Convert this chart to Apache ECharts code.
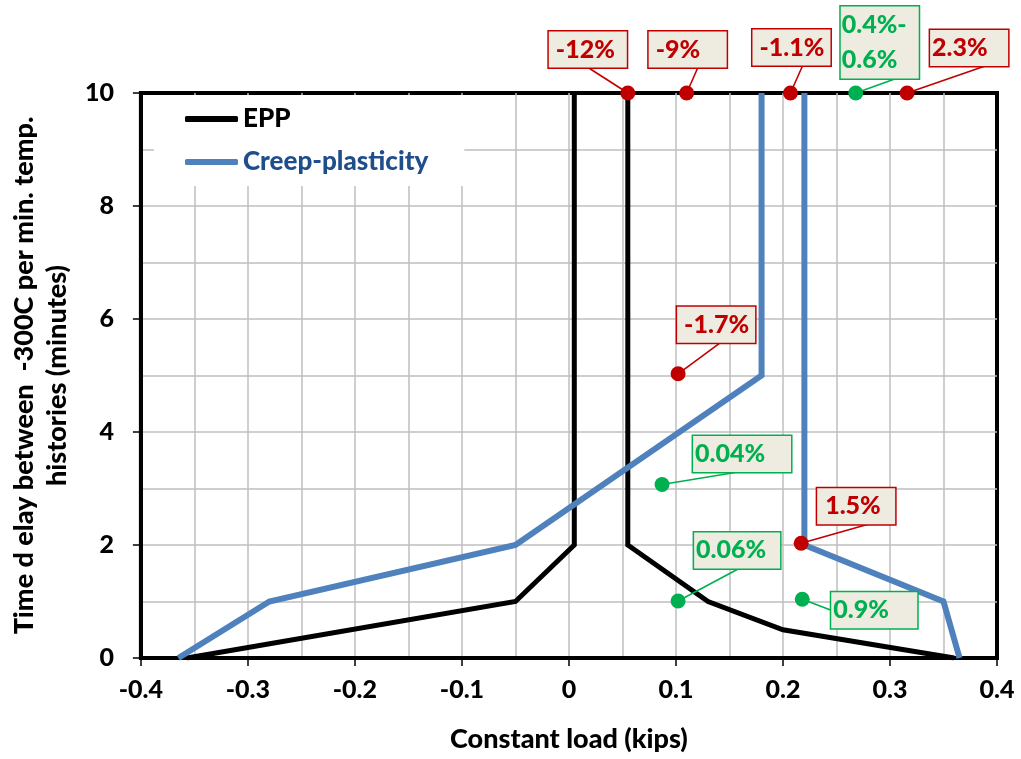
<!DOCTYPE html>
<html>
<head>
<meta charset="utf-8">
<script src="https://cdn.jsdelivr.net/npm/echarts@6/dist/echarts.min.js"></script>
<style>html,body{margin:0;padding:0;background:#fff}#c{width:1021px;height:759px}</style>
</head>
<body>
<div id="c"></div>
<script>
// ---- data ----
const xTitle = 'Constant load (kips)';
const yTitle = 'Time d elay between  -300C per min. temp.\nhistories (minutes)';
const seriesNames = ['EPP', 'Creep-plasticity'];
const eppLeft = [[-0.357, 0], [-0.05, 1], [0.005, 2], [0.005, 10]];
const eppRight = [[0.055, 10], [0.055, 2], [0.13, 1], [0.2, 0.5], [0.36, 0]];
const creepLeft = [[-0.365, 0], [-0.28, 1], [-0.05, 2], [0.18, 5], [0.18, 10]];
const creepRight = [[0.22, 10], [0.22, 2], [0.35, 1], [0.365, 0]];
const redPoints = [[0.055, 10], [0.11, 10], [0.207, 10], [0.316, 10], [0.102, 5.03], [0.217, 2.03]];
const redLabels = ['-12%', '-9%', '-1.1%', '2.3%', '-1.7%', '1.5%'];
const greenPoints = [[0.268, 10], [0.087, 3.07], [0.102, 1.01], [0.218, 1.04]];
const greenLabels = ['0.4%-\n0.6%', '0.04%', '0.06%', '0.9%'];

// ---- layout / style ----
// label boxes: [dx to box left, dy to box middle, outer width, left padding] relative to the dot
const redBoxes = [[-79, -43.5, 80, 7], [-38, -43.5, 80, 7], [-38, -45.5, 80, 7], [23, -45, 80, 2], [-1, -49, 80, 7], [16, -37, 80, 8]];
const greenBoxes = [[-15, -50.5, 80, 1], [31, -30.5, 100, 2], [16, -50.5, 88, 2], [29, 11, 88, 2]];
// leader-line end (on the box edge) relative to the dot
const redLeaders = [[-39, -25], [11, -25], [12, -27], [78, -27], [42, -31], [67, -19]];
const greenLeaders = [[39, -14], [73, -12], [60, -32], [29, 11]];
const FONT = 'Lato';
const FW = 900;
const RED = '#c00000', GREEN = '#00b050', BLUE = '#4f81bd', BOXFILL = '#eeece1';

function annotData(points, labels, boxes) {
  return points.map((p, i) => {
    const b = boxes[i];
    const twoLine = labels[i].indexOf('\n') >= 0;
    return {
      value: p,
      name: labels[i],
      label: {
        width: b[2] - b[3] - 2,
        padding: twoLine ? [1, 0, 1, b[3]] : [5, 0, 5, b[3]],
        lineHeight: twoLine ? 35 : 26
      }
    };
  });
}
function annotSeries(points, labels, boxes, color) {
  return {
    type: 'scatter',
    name: 'annot-' + color,
    data: annotData(points, labels, boxes),
    symbol: 'circle',
    symbolSize: 15,
    itemStyle: { color: color, opacity: 1 },
    z: 5,
    label: {
      show: true,
      position: 'inside',
      align: 'left',
      verticalAlign: 'middle',
      formatter: '{b}',
      color: color,
      opacity: 1,
      fontFamily: FONT,
      fontWeight: FW,
      fontSize: 25,
      backgroundColor: BOXFILL,
      borderColor: color,
      borderWidth: 1.5
    },
    labelLayout: function (params) {
      const b = boxes[params.dataIndex];
      return { dx: b[0], dy: b[1] };
    },
    emphasis: { disabled: true },
    silent: true
  };
}
function leaderSeries(points, leaders, color) {
  return {
    type: 'custom',
    name: 'leader-' + color,
    data: points,
    z: 4,
    silent: true,
    renderItem: function (params, api) {
      const p = api.coord([api.value(0), api.value(1)]);
      const a = leaders[params.dataIndex];
      return {
        type: 'line',
        shape: { x1: p[0], y1: p[1], x2: p[0] + a[0], y2: p[1] + a[1] },
        style: { stroke: color, lineWidth: 1.6 }
      };
    }
  };
}
function lineSeries(name, data, color, width) {
  return {
    type: 'line', name: name, data: data, symbol: 'none', z: 3,
    lineStyle: { color: color, width: width, cap: 'butt', join: 'miter' },
    itemStyle: { color: color },
    emphasis: { disabled: true }, silent: true, animation: false
  };
}

const chart = echarts.init(document.getElementById('c'), null, { renderer: 'canvas' });
const gridLine = { show: true, lineStyle: { color: '#bfbfbf', width: 1.5 } };
chart.setOption({
  animation: false,
  backgroundColor: '#fff',
  textStyle: { fontFamily: FONT },
  grid: { left: 138, right: 24, top: 93, bottom: 101, show: true, borderColor: '#000', borderWidth: 4, backgroundColor: 'transparent' },
  legend: {
    data: [
      { name: seriesNames[0], icon: 'roundRect', itemStyle: { color: '#000' }, textStyle: { color: '#000' } },
      { name: seriesNames[1], icon: 'roundRect', itemStyle: { color: BLUE }, textStyle: { color: '#1f4e8c' } }
    ],
    orient: 'vertical', left: 154, top: 95,
    itemWidth: 53, itemHeight: 6, itemGap: 13,
    padding: [9, 36, 9, 31],
    backgroundColor: '#fff',
    selectedMode: false,
    textStyle: { fontFamily: FONT, fontWeight: FW, fontSize: 26, lineHeight: 30 }
  },
  xAxis: {
    type: 'value', min: -0.4, max: 0.4, interval: 0.1,
    name: xTitle, nameLocation: 'middle', nameGap: 68,
    nameTextStyle: { color: '#000', fontFamily: FONT, fontWeight: FW, fontSize: 27 },
    axisLine: { show: true, onZero: false, lineStyle: { color: '#000', width: 4 } },
    axisTick: { show: true, length: 8, lineStyle: { color: '#000', width: 1.5 } },
    axisLabel: { color: '#000', fontFamily: FONT, fontWeight: FW, fontSize: 25, margin: 19,
      formatter: v => (Math.abs(v) < 1e-9 ? '0' : (+v.toFixed(1)).toString()) },
    splitLine: Object.assign({ showMinLine: false, showMaxLine: false }, gridLine),
    minorTick: { show: false, splitNumber: 2 },
    minorSplitLine: gridLine
  },
  yAxis: {
    type: 'value', min: 0, max: 10, interval: 2,
    name: yTitle, nameLocation: 'middle', nameGap: 61, nameRotate: 90,
    nameTextStyle: { color: '#000', fontFamily: FONT, fontWeight: FW, fontSize: 27, lineHeight: 33, align: 'center' },
    axisLine: { show: true, onZero: false, lineStyle: { color: '#000', width: 4 } },
    axisTick: { show: true, length: 8, lineStyle: { color: '#000', width: 1.5 } },
    axisLabel: { color: '#000', fontFamily: FONT, fontWeight: FW, fontSize: 25, margin: 27 },
    splitLine: Object.assign({ showMinLine: false, showMaxLine: false }, gridLine),
    minorTick: { show: false, splitNumber: 2 },
    minorSplitLine: gridLine
  },
  series: [
    lineSeries(seriesNames[0], eppLeft, '#000', 5),
    lineSeries(seriesNames[0], eppRight, '#000', 5),
    lineSeries(seriesNames[1], creepLeft, BLUE, 6),
    lineSeries(seriesNames[1], creepRight, BLUE, 6),
    leaderSeries(redPoints, redLeaders, RED),
    leaderSeries(greenPoints, greenLeaders, GREEN),
    annotSeries(redPoints, redLabels, redBoxes, RED),
    annotSeries(greenPoints, greenLabels, greenBoxes, GREEN)
  ]
});
</script>
</body>
</html>
